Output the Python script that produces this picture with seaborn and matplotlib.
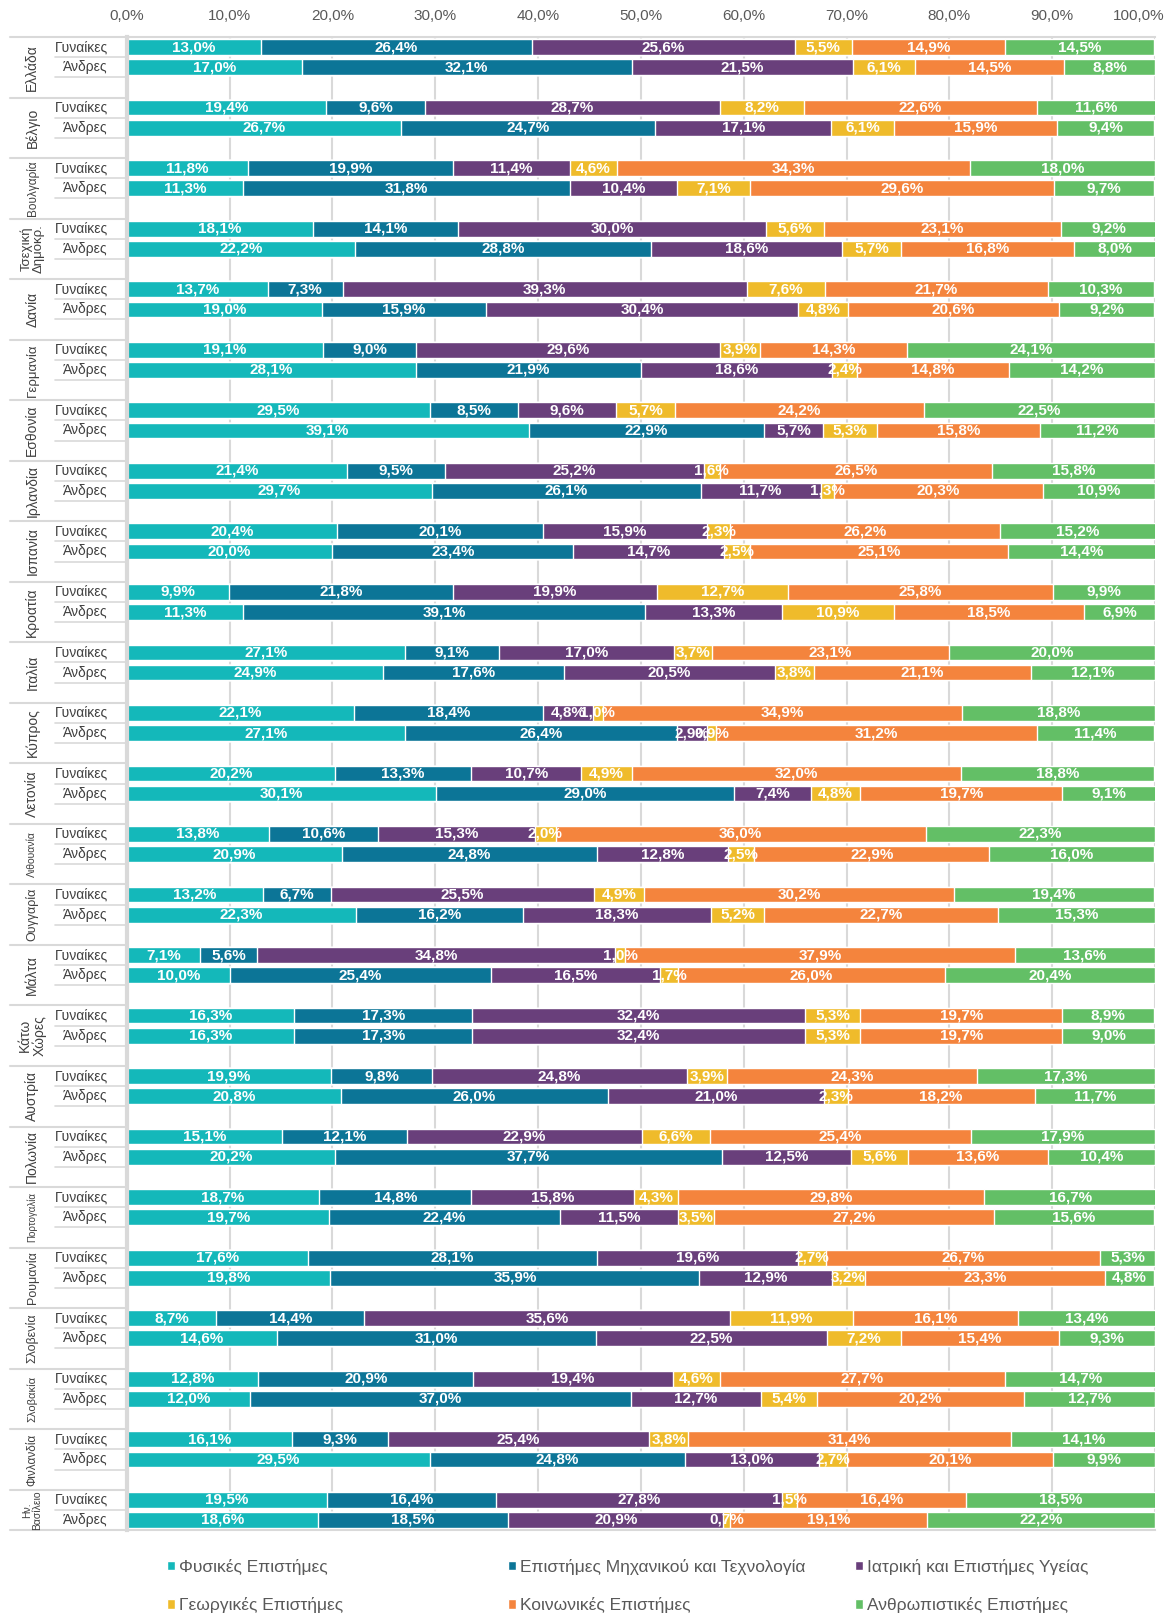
import pandas as pd
import seaborn as sns
import matplotlib.pyplot as plt
import matplotlib.transforms as mtransforms
from matplotlib.patches import Patch

# χώρες και ομάδες
countries = ["Ελλάδα", "Βέλγιο", "Βουλγαρία", "Τσεχική\nΔημοκρ.", "Δανία", "Γερμανία",
             "Εσθονία", "Ιρλανδία", "Ισπανία", "Κροατία", "Ιταλία", "Κύπρος", "Λετονία",
             "Λιθουανία", "Ουγγαρία", "Μάλτα", "Κάτω\nΧώρες", "Αυστρία", "Πολωνία",
             "Πορτογαλία", "Ρουμανία", "Σλοβενία", "Σλοβακία", "Φινλανδία", "Ην.\nΒασίλειο"]
sexes = ["Γυναίκες", "Άνδρες"]
fields = ["Φυσικές Επιστήμες", "Επιστήμες Μηχανικού και Τεχνολογία", "Ιατρική και Επιστήμες Υγείας",
          "Γεωργικές Επιστήμες", "Κοινωνικές Επιστήμες", "Ανθρωπιστικές Επιστήμες"]
colors = ["#14B8BA", "#0C7597", "#693F7B", "#EFBB2B", "#F4843D", "#63BF66"]

# ποσοστά (%) ανά χώρα, με τη σειρά των fields
women = [
    [13.0, 26.4, 25.6, 5.5, 14.9, 14.5],
    [19.4, 9.6, 28.7, 8.2, 22.6, 11.6],
    [11.8, 19.9, 11.4, 4.6, 34.3, 18.0],
    [18.1, 14.1, 30.0, 5.6, 23.1, 9.2],
    [13.7, 7.3, 39.3, 7.6, 21.7, 10.3],
    [19.1, 9.0, 29.6, 3.9, 14.3, 24.1],
    [29.5, 8.5, 9.6, 5.7, 24.2, 22.5],
    [21.4, 9.5, 25.2, 1.6, 26.5, 15.8],
    [20.4, 20.1, 15.9, 2.3, 26.2, 15.2],
    [9.9, 21.8, 19.9, 12.7, 25.8, 9.9],
    [27.1, 9.1, 17.0, 3.7, 23.1, 20.0],
    [22.1, 18.4, 4.8, 1.0, 34.9, 18.8],
    [20.2, 13.3, 10.7, 4.9, 32.0, 18.8],
    [13.8, 10.6, 15.3, 2.0, 36.0, 22.3],
    [13.2, 6.7, 25.5, 4.9, 30.2, 19.4],
    [7.1, 5.6, 34.8, 1.0, 37.9, 13.6],
    [16.3, 17.3, 32.4, 5.3, 19.7, 8.9],
    [19.9, 9.8, 24.8, 3.9, 24.3, 17.3],
    [15.1, 12.1, 22.9, 6.6, 25.4, 17.9],
    [18.7, 14.8, 15.8, 4.3, 29.8, 16.7],
    [17.6, 28.1, 19.6, 2.7, 26.7, 5.3],
    [8.7, 14.4, 35.6, 11.9, 16.1, 13.4],
    [12.8, 20.9, 19.4, 4.6, 27.7, 14.7],
    [16.1, 9.3, 25.4, 3.8, 31.4, 14.1],
    [19.5, 16.4, 27.8, 1.5, 16.4, 18.5],
]
men = [
    [17.0, 32.1, 21.5, 6.1, 14.5, 8.8],
    [26.7, 24.7, 17.1, 6.1, 15.9, 9.4],
    [11.3, 31.8, 10.4, 7.1, 29.6, 9.7],
    [22.2, 28.8, 18.6, 5.7, 16.8, 8.0],
    [19.0, 15.9, 30.4, 4.8, 20.6, 9.2],
    [28.1, 21.9, 18.6, 2.4, 14.8, 14.2],
    [39.1, 22.9, 5.7, 5.3, 15.8, 11.2],
    [29.7, 26.1, 11.7, 1.3, 20.3, 10.9],
    [20.0, 23.4, 14.7, 2.5, 25.1, 14.4],
    [11.3, 39.1, 13.3, 10.9, 18.5, 6.9],
    [24.9, 17.6, 20.5, 3.8, 21.1, 12.1],
    [27.1, 26.4, 2.9, 0.9, 31.2, 11.4],
    [30.1, 29.0, 7.4, 4.8, 19.7, 9.1],
    [20.9, 24.8, 12.8, 2.5, 22.9, 16.0],
    [22.3, 16.2, 18.3, 5.2, 22.7, 15.3],
    [10.0, 25.4, 16.5, 1.7, 26.0, 20.4],
    [16.3, 17.3, 32.4, 5.3, 19.7, 9.0],
    [20.8, 26.0, 21.0, 2.3, 18.2, 11.7],
    [20.2, 37.7, 12.5, 5.6, 13.6, 10.4],
    [19.7, 22.4, 11.5, 3.5, 27.2, 15.6],
    [19.8, 35.9, 12.9, 3.2, 23.3, 4.8],
    [14.6, 31.0, 22.5, 7.2, 15.4, 9.3],
    [12.0, 37.0, 12.7, 5.4, 20.2, 12.7],
    [29.5, 24.8, 13.0, 2.7, 20.1, 9.9],
    [18.6, 18.5, 20.9, 0.7, 19.1, 22.2],
]

# dataframe με μία γραμμή ανά μπάρα
records = []
order = []
for i, c in enumerate(countries):
    for s, vals in zip(sexes, [women[i], men[i]]):
        key = f"{i}|{s}"
        order.append(key)
        rec = {"row": key, "country": c, "sex": s}
        for f, v in zip(fields, vals):
            rec[f] = v
        records.append(rec)
    if i < len(countries) - 1:
        order.append(f"{i}|gap")   # κενή γραμμή ανάμεσα στις χώρες
df = pd.DataFrame(records)

# σωρευτικά αθροίσματα για το stacked bar
cum = df[fields].cumsum(axis=1)
for f in fields:
    df["cum_" + f] = cum[f]

sns.set_style("white")
plt.rcParams["font.family"] = ["Liberation Sans", "DejaVu Sans"]

fig = plt.figure(figsize=(11.64, 16.16), dpi=100)
ax = fig.add_axes([0.109, 0.0532, 0.8832, 0.9239])

# από το μεγαλύτερο σωρευτικό προς το μικρότερο
for f, col in reversed(list(zip(fields, colors))):
    sns.barplot(data=df, x="cum_" + f, y="row", order=order, color=col,
                saturation=1, width=0.78, errorbar=None, orient="h", ax=ax)

# ετικέτες τιμών μέσα στις μπάρες
pos = {k: j for j, k in enumerate(order)}
for _, r in df.iterrows():
    start = 0
    for f in fields:
        v = r[f]
        ax.text(start + v / 2, pos[r["row"]], f"{v:.1f}%".replace(".", ","),
                ha="center", va="center", color="white", fontsize=11,
                fontweight="bold")
        start += v

# άξονες
ax.set_xlim(0, 100)
ax.set_ylim(len(order) - 0.5, -0.5)
ax.xaxis.tick_top()
ax.set_xticks(range(0, 101, 10))
ax.set_xticklabels([f"{t:.1f}%".replace(".", ",") for t in range(0, 101, 10)],
                   fontsize=11, color="#595959")
ax.tick_params(axis="x", length=0, pad=10)
lastlab = ax.get_xticklabels()[-1]
lastlab.set_transform(lastlab.get_transform() +
                      mtransforms.ScaledTranslation(-0.16, 0, fig.dpi_scale_trans))
ax.set_yticks([])
ax.set_xlabel("")
ax.set_ylabel("")
ax.grid(axis="x", color="#D9D9D9", linewidth=1.5)
ax.set_axisbelow(True)
for sp in ["top", "bottom"]:
    ax.spines[sp].set_color("#D9D9D9")
    ax.spines[sp].set_linewidth(1.5)
ax.spines["right"].set_visible(False)
ax.spines["left"].set_color("#D9D9D9")
ax.spines["left"].set_linewidth(3)

# ετικέτες γραμμών και χωρών αριστερά
tr = ax.get_yaxis_transform()
sizes = {"Βουλγαρία": 8.5, "Λιθουανία": 7.5, "Πορτογαλία": 7, "Σλοβακία": 8,
         "Φινλανδία": 8.5, "Γερμανία": 9.5, "Σλοβενία": 9, "Ρουμανία": 9,
         "Ουγγαρία": 9, "Ην.\nΒασίλειο": 7.5, "Τσεχική\nΔημοκρ.": 9.5}
for i, c in enumerate(countries):
    base = 3 * i
    for k, s in enumerate(sexes):
        ax.text(-0.0185, base + k, s, transform=tr, ha="right", va="center",
                fontsize=10, color="#404040")
    last = i == len(countries) - 1
    cy = base + (0.5 if last else 1)
    ax.text(-0.092, cy, c, transform=tr, rotation=90, ha="center", va="center",
            fontsize=sizes.get(c, 10), color="#404040", linespacing=1.0)
    # διαχωριστικές γραμμές
    ax.plot([-0.114, 0], [base - 0.5, base - 0.5], transform=tr, color="#D9D9D9",
            lw=1.5, clip_on=False)
    ax.plot([-0.07, 0], [base + 0.5, base + 0.5], transform=tr, color="#D9D9D9",
            lw=1.2, clip_on=False)
    if not last:
        ax.plot([-0.07, 0], [base + 1.5, base + 1.5], transform=tr, color="#D9D9D9",
                lw=1.2, clip_on=False)
ax.plot([-0.114, 0], [len(order) - 0.5] * 2, transform=tr, color="#D9D9D9",
        lw=1.5, clip_on=False)

# υπόμνημα: τρεις στήλες, δύο γραμμές
handles = [Patch(facecolor=c, label=f) for f, c in zip(fields, colors)]
col_x = [0.1435, 0.4364, 0.7345]
for j, x in enumerate(col_x):
    fig.legend([handles[j], handles[j + 3]], [fields[j], fields[j + 3]],
               loc="center left", bbox_to_anchor=(x, 0.0186), frameon=False,
               fontsize=12.5, handlelength=0.46, handleheight=0.46,
               handletextpad=0.25, labelspacing=1.3, borderpad=0,
               borderaxespad=0, labelcolor="#595959")

plt.savefig("out.png", dpi=100)
